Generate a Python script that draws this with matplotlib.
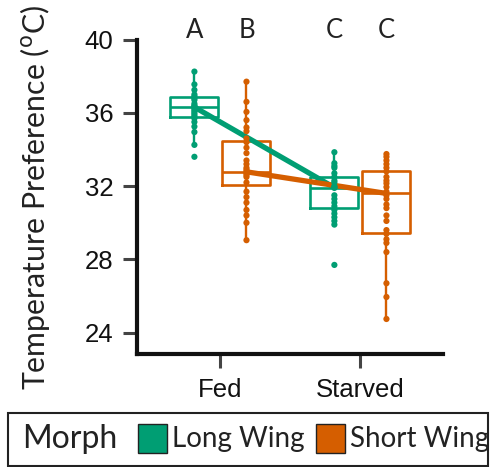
import matplotlib
matplotlib.use("Agg")
import matplotlib.pyplot as plt
from matplotlib.patches import Rectangle
import numpy as np

# ---- data ----
conditions = ["Fed", "Starved"]
morphs = ["Long Wing", "Short Wing"]
colors = ["#009E73", "#D55E00"]

long_fed = [38.25, 37.55, 37.25, 37.0, 36.9, 36.8, 36.7, 36.5, 36.4, 36.35, 36.3,
            36.2, 36.1, 36.0, 35.9, 35.8, 35.7, 35.5, 35.25, 34.95, 34.25, 33.6]
short_fed = [37.7, 36.6, 36.05, 35.6, 35.2, 35.0, 34.6, 34.4, 34.1, 33.8, 33.4, 33.2,
             33.0, 32.9, 32.8, 32.7, 32.6, 32.5, 32.2, 31.7, 31.4, 31.1, 30.7, 30.4,
             30.0, 29.05]
long_starved = [33.85, 33.25, 33.1, 33.0, 32.7, 32.5, 32.3, 32.2, 32.0, 31.95, 31.9,
                31.5, 31.3, 31.1, 30.9, 30.7, 30.5, 30.3, 30.1, 29.9, 27.7]
short_starved = [33.75, 33.6, 33.4, 33.2, 33.0, 32.8, 32.5, 32.3, 32.15, 31.95, 31.7,
                 31.5, 31.3, 31.0, 30.8, 30.4, 30.1, 29.6, 29.4, 29.1, 28.9, 28.4,
                 26.7, 25.95, 24.75]

# box statistics: [Fed, Starved] per morph
long_q1 = [35.78, 30.78]
long_med = [36.31, 31.92]
long_q3 = [36.87, 32.50]
long_wlo = [34.25, 29.90]
long_whi = [38.25, 33.85]
short_q1 = [32.05, 29.46]
short_med = [32.78, 31.60]
short_q3 = [34.45, 32.83]
short_wlo = [29.05, 24.75]
short_whi = [37.70, 33.75]

letters = ["A", "B", "C", "C"]  # Fed-Long, Fed-Short, Starved-Long, Starved-Short

yticks = [24, 28, 32, 36, 40]

points = {("Long Wing", 0): long_fed, ("Short Wing", 0): short_fed,
          ("Long Wing", 1): long_starved, ("Short Wing", 1): short_starved}
stats = {"Long Wing": (long_q1, long_med, long_q3, long_wlo, long_whi),
         "Short Wing": (short_q1, short_med, short_q3, short_wlo, short_whi)}

# ---- figure ----
fig = plt.figure(figsize=(4.92, 4.67), dpi=100)
ax = fig.add_axes([0.2785, 0.242, 0.9004 - 0.2785, 0.9154 - 0.242])

xpos = np.arange(1, len(conditions) + 1)
dodge = 0.186
width = 0.343

for mi, (morph, col) in enumerate(zip(morphs, colors)):
    off = -dodge if mi == 0 else dodge
    q1, med, q3, wlo, whi = stats[morph]
    bxp_stats = []
    for ci in range(len(conditions)):
        bxp_stats.append(dict(q1=q1[ci], med=med[ci], q3=q3[ci],
                              whislo=wlo[ci], whishi=whi[ci], fliers=[]))
    pos = xpos + off
    ax.bxp(bxp_stats, positions=pos, widths=width, showfliers=False, showcaps=False,
           patch_artist=False, manage_ticks=False,
           boxprops=dict(color=col, lw=1.9),
           medianprops=dict(color=col, lw=1.9),
           whiskerprops=dict(color=col, lw=1.7), zorder=2)
    ax.plot(pos, med, color=col, lw=3.8, solid_capstyle="butt", zorder=3)
    for ci in range(len(conditions)):
        vals = points[(morph, ci)]
        ax.scatter(np.full(len(vals), pos[ci]), vals, s=20, color=col,
                   edgecolors="none", zorder=4)

# significance letters
lx = [xpos[0] - dodge, xpos[0] + dodge, xpos[1] - dodge, xpos[1] + dodge]
for x, t in zip(lx, letters):
    ax.text(x, 40.07, t, ha="center", va="baseline", fontsize=18.5,
            family="Lato", color="#222222", clip_on=False)

ax.set_xlim(0.404, 2.59)
ax.set_ylim(22.84, 40)
ax.set_yticks(yticks)
ax.set_xticks(xpos)
ax.set_xticklabels(conditions)

for s in ["top", "right"]:
    ax.spines[s].set_visible(False)
for s in ["left", "bottom"]:
    ax.spines[s].set_linewidth(3)
    ax.spines[s].set_color("#111111")
    ax.spines[s].set_capstyle("projecting")

ax.tick_params(axis="both", direction="out", length=10, width=2.2, color="#444444",
               labelsize=18.5, labelcolor="#111111")
ax.tick_params(axis="y", pad=7)
ax.tick_params(axis="x", pad=7)
for lab in ax.get_xticklabels() + ax.get_yticklabels():
    lab.set_family("Liberation Sans")

# y label
fig.text(35 / 492, 1 - 197 / 467, r"Temperature Preference ($^{\mathrm{o}}$C)",
         rotation=90, ha="center", va="center", fontsize=21.8, family="Lato",
         color="#222222")

# legend (manual, row layout)
W, H = 492.0, 467.0
fig.patches.append(Rectangle((8 / W, 1 / H), (488 - 8) / W, (466 - 413) / H,
                             transform=fig.transFigure, fill=False, lw=1.5,
                             edgecolor="#222222"))
fig.text(22 / W, 1 - 438.5 / H, "Morph", ha="left", va="center", fontsize=23,
         family="Lato", color="#222222")
for x0, col, lab in [(138, colors[0], morphs[0]), (316, colors[1], morphs[1])]:
    fig.patches.append(Rectangle((x0 / W, 1 - 453 / H), 29 / W, 29 / H,
                                 transform=fig.transFigure, facecolor=col,
                                 edgecolor="#222222", lw=1.0))
    fig.text((x0 + 34) / W, 1 - 438.5 / H, lab, ha="left", va="center",
             fontsize=20, family="Lato", color="#222222")

fig.savefig("out.png", dpi=100)
